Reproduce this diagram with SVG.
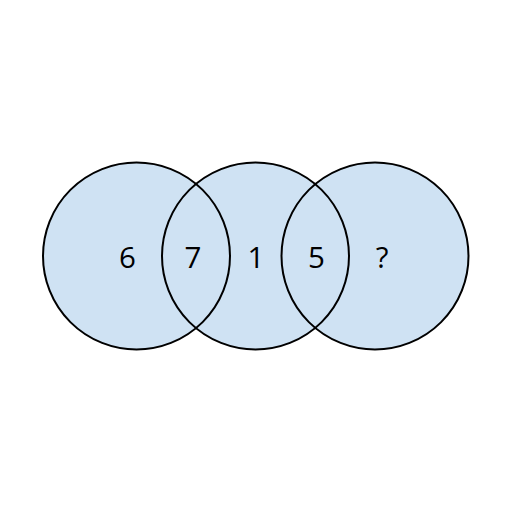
<svg xmlns="http://www.w3.org/2000/svg" width="512" height="512" viewBox="0 0 512 512">
<style>
.fill{fill:#cfe2f3;stroke:none}
.ring{fill:none;stroke:#000;stroke-width:2}
.lbl{font-family:"Open Sans","Noto Sans",sans-serif;font-size:29.5px;fill:#000;text-anchor:middle}
</style>
<rect width="512" height="512" fill="#fff"/>
<g id="fills">
<circle class="fill" cx="136.5" cy="256" r="93.5"/>
<circle class="fill" cx="255.5" cy="256" r="93.5"/>
<circle class="fill" cx="375" cy="256" r="93.5"/>
</g>
<g id="circle-left"><circle class="ring" cx="136.5" cy="256" r="93.5"/></g>
<g id="circle-middle"><circle class="ring" cx="255.5" cy="256" r="93.5"/></g>
<g id="circle-right"><circle class="ring" cx="375" cy="256" r="93.5"/></g>
<g id="labels">
<text class="lbl" x="127.5" y="268">6</text>
<text class="lbl" x="193" y="268">7</text>
<text class="lbl" x="256" y="268">1</text>
<text class="lbl" x="316.5" y="268">5</text>
<text class="lbl" x="382" y="268">?</text>
</g>
</svg>
